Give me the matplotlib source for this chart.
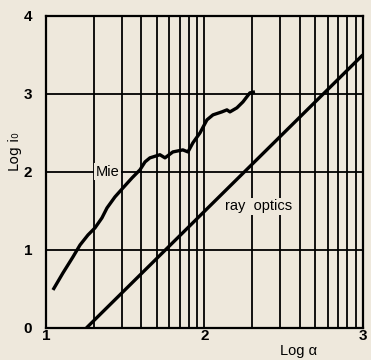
import matplotlib
matplotlib.use("Agg")
import matplotlib.pyplot as plt
import numpy as np

# Mie curve (log alpha, log i0)
mie_x = [1.044, 1.107, 1.170, 1.215, 1.265, 1.309, 1.353, 1.385, 1.435, 1.486, 1.543, 1.593,
         1.625, 1.656, 1.719, 1.751, 1.801, 1.864, 1.896, 1.927, 1.972, 2.016, 2.054, 2.110,
         2.142, 2.161, 2.205, 2.243, 2.287, 2.319]
mie_y = [0.487, 0.705, 0.910, 1.064, 1.192, 1.282, 1.410, 1.538, 1.679, 1.795, 1.923, 2.026,
         2.128, 2.18, 2.22, 2.18, 2.256, 2.282, 2.256, 2.372, 2.50, 2.667, 2.731, 2.769,
         2.795, 2.769, 2.821, 2.897, 3.013, 3.026]
# ray optics line
ray_x = [1.255, 3.0]
ray_y = [0.0, 3.5]

xticks = [1, 2, 3]
yticks = [0, 1, 2, 3, 4]

bg = "#eee8dc"
fig = plt.figure(figsize=(3.71, 3.60), dpi=100, facecolor=bg)
ax = fig.add_axes([0.124, 0.089, 0.854, 0.867], facecolor=bg)
ax.set_xlim(1, 3)
ax.set_ylim(0, 4)

# grid: vertical at log positions
for d in [1, 2]:
    for k in range(2, 10):
        ax.axvline(d + np.log10(k), color="black", lw=1.3, zorder=1)
for y in yticks[1:]:
    ax.axhline(y, color="black", lw=1.3, zorder=1)
ax.axvline(2, color="black", lw=1.3, zorder=1)

for s in ax.spines.values():
    s.set_linewidth(1.6)

ax.plot(mie_x, mie_y, color="black", lw=2.4, zorder=3, solid_capstyle="butt", solid_joinstyle="round")
ax.plot(ray_x, ray_y, color="black", lw=2.4, zorder=3, solid_capstyle="butt")

ax.text(1.39, 2.0, "Mie", ha="center", va="center", fontsize=10.5, family="Liberation Sans",
        bbox=dict(facecolor=bg, edgecolor="none", pad=1), zorder=4)
ax.text(2.34, 1.56, "ray  optics", ha="center", va="center", fontsize=10.5, family="Liberation Sans",
        bbox=dict(facecolor=bg, edgecolor="none", pad=1), zorder=4)

ax.set_xticks(xticks)
ax.set_xticklabels([str(t) for t in xticks], fontsize=11, fontweight="bold", family="Liberation Sans")
ax.set_yticks(yticks)
ax.set_yticklabels([str(t) for t in yticks], fontsize=11, fontweight="bold", family="Liberation Sans")
ax.tick_params(length=0, pad=10)
ax.tick_params(axis="x", pad=1)

fig.text(0.805, 0.025, "Log \u03b1", fontsize=10.5, family="Liberation Sans", ha="center", va="center")
fig.text(0.04, 0.58, "Log i\u2080", fontsize=10, family="DejaVu Sans", rotation=90, ha="center", va="center")

fig.savefig("out.png", dpi=100, facecolor=bg)
